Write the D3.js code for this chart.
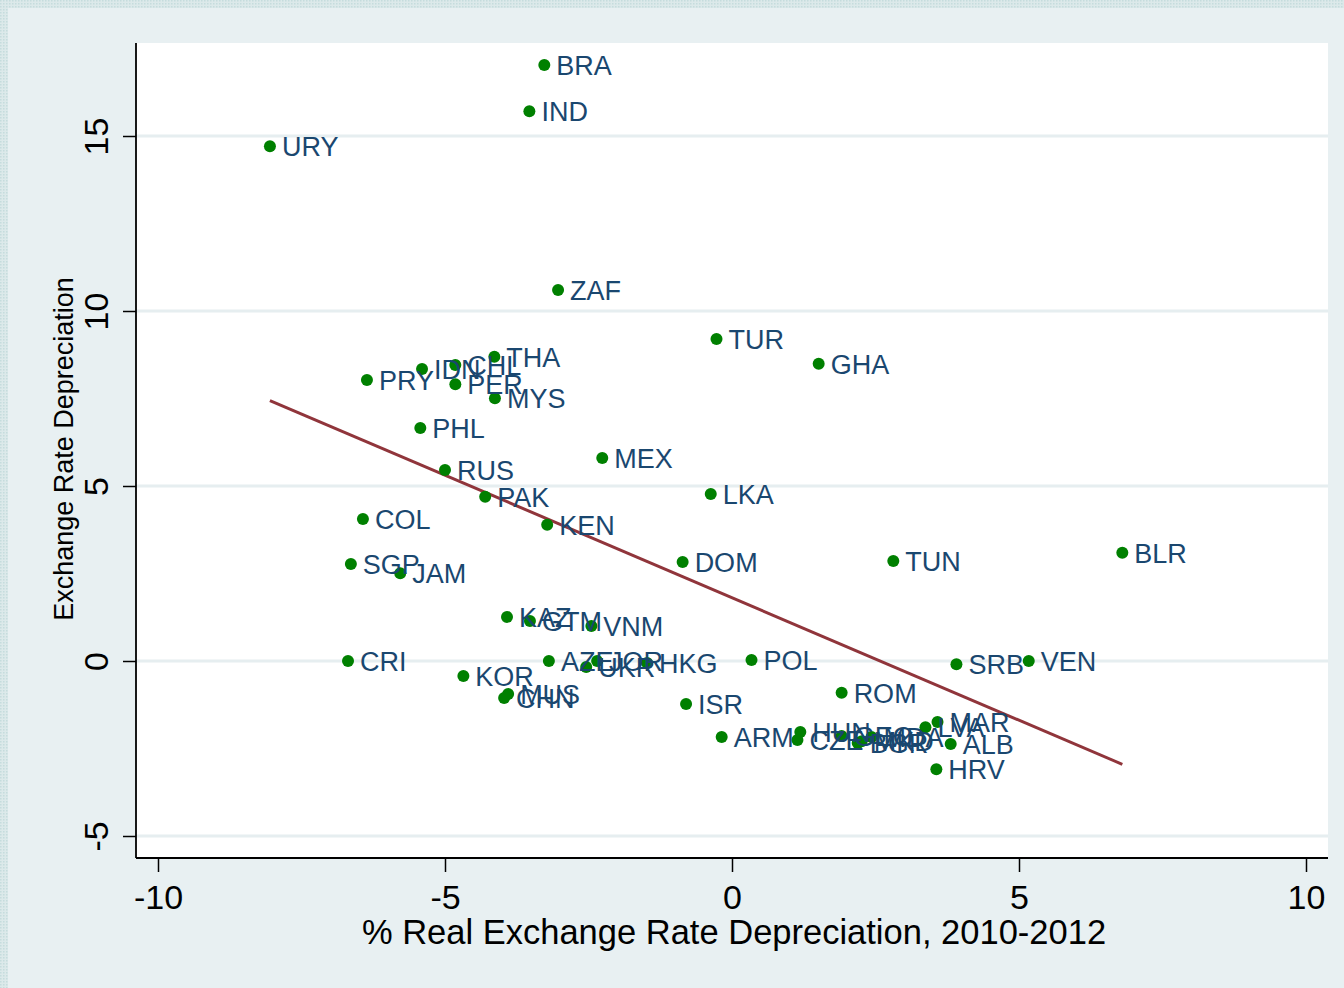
<!DOCTYPE html>
<html>
<head>
<meta charset="utf-8">
<script src="https://cdn.jsdelivr.net/npm/d3@7"></script>
<style>
  html, body { margin: 0; padding: 0; background: #e8f0f2; }
  svg { display: block; }
</style>
</head>
<body>
<svg id="chart" width="1344" height="988"></svg>
<script>
// Country codes with real exchange rate change (x) and exchange rate depreciation (y)
const countries = ["BRA","IND","URY","ZAF","TUR","GHA","THA","CHL","IDN","PRY","PER","MYS","PHL","MEX","RUS","LKA","PAK","COL","KEN","DOM","TUN","BLR","SGP","JAM","KAZ","GTM","VNM","CRI","KOR","AZE","UKR","JOR","HKG","POL","SRB","VEN","ROM","ISR","CHN","MUS","ARM","HUN","CZE","GEO","BGR","MKD","MDA","LVA","MAR","ALB","HRV"];
const realDep = [-3.27,-3.53,-8.05,-3.03,-0.27,1.51,-4.14,-4.82,-5.40,-6.36,-4.82,-4.13,-5.43,-2.26,-5.00,-0.37,-4.30,-6.43,-3.22,-0.86,2.81,6.80,-6.64,-5.78,-3.92,-3.52,-2.45,-6.69,-4.68,-3.19,-2.54,-2.35,-1.48,0.34,3.91,5.17,1.91,-0.80,-3.97,-3.90,-0.18,1.19,1.14,1.91,2.19,2.26,2.43,3.37,3.58,3.81,3.56];
const nomDep = [17.03,15.71,14.71,10.60,9.20,8.49,8.69,8.46,8.34,8.03,7.91,7.51,6.66,5.80,5.46,4.77,4.69,4.06,3.89,2.83,2.86,3.09,2.77,2.51,1.26,1.14,1.00,0.00,-0.43,0.00,-0.17,0.00,-0.06,0.03,-0.09,0.00,-0.91,-1.23,-1.06,-0.94,-2.17,-2.03,-2.26,-2.14,-2.34,-2.29,-2.17,-1.89,-1.74,-2.37,-3.09];
const xTicks = [-10, -5, 0, 5, 10];
const yTicks = [-5, 0, 5, 10, 15];
const xTitle = "% Real Exchange Rate Depreciation, 2010-2012";
const yTitle = "Exchange Rate Depreciation";

const svg = d3.select("#chart");
const W = 1344, H = 988;
const plot = { left: 136, right: 1328, top: 43, bottom: 858 };

const x = d3.scaleLinear().domain([-10, 10]).range([158, 1306]);
const y = d3.scaleLinear().domain([-5, 15]).range([836, 136]);

// Dotted frame along the top and left edges
const defs = svg.append("defs");
const pat = defs.append("pattern").attr("id", "dots")
  .attr("width", 3).attr("height", 3).attr("patternUnits", "userSpaceOnUse");
pat.append("rect").attr("width", 3).attr("height", 3).attr("fill", "#dce9ea");
pat.append("rect").attr("width", 1.5).attr("height", 1.5).attr("fill", "#c5dcdd");

svg.append("rect").attr("width", W).attr("height", H).attr("fill", "#e8f0f2");
svg.append("rect").attr("x", 0).attr("y", 0).attr("width", W).attr("height", 8).attr("fill", "url(#dots)");
svg.append("rect").attr("x", 0).attr("y", 0).attr("width", 8).attr("height", H).attr("fill", "url(#dots)");

// Plot region
svg.append("rect")
  .attr("x", plot.left).attr("y", plot.top)
  .attr("width", plot.right - plot.left).attr("height", plot.bottom - plot.top)
  .attr("fill", "#ffffff");

// Horizontal grid lines
svg.append("g").selectAll("line").data(yTicks).join("line")
  .attr("x1", plot.left).attr("x2", plot.right)
  .attr("y1", d => y(d)).attr("y2", d => y(d))
  .attr("stroke", "#e6eef0").attr("stroke-width", 3);

// Axes
const font = "Liberation Sans, Arial, Helvetica, sans-serif";
const xAxis = svg.append("g").attr("transform", `translate(0,${plot.bottom})`)
  .call(d3.axisBottom(x).tickValues(xTicks).tickSize(14).tickPadding(13).tickFormat(d3.format("d")));
xAxis.select(".domain").remove();
xAxis.selectAll("line").attr("stroke", "#000").attr("stroke-width", 1.5);
xAxis.selectAll("text").attr("font-family", font).attr("font-size", 34).attr("fill", "#000")
  .text(d => d < 0 ? "-" + Math.abs(d) : String(d));

const yAxis = svg.append("g").attr("transform", `translate(${plot.left},0)`)
  .call(d3.axisLeft(y).tickValues(yTicks).tickSize(13).tickPadding(0).tickFormat(d3.format("d")));
yAxis.select(".domain").remove();
yAxis.selectAll("line").attr("stroke", "#000").attr("stroke-width", 1.5);
yAxis.selectAll("text")
  .attr("font-family", font).attr("font-size", 34).attr("fill", "#000")
  .attr("x", 0).attr("dy", null)
  .attr("text-anchor", "middle")
  .attr("transform", "translate(-28,0) rotate(-90)")
  .text(d => d < 0 ? "-" + Math.abs(d) : String(d));

svg.append("line")
  .attr("x1", plot.left).attr("x2", plot.left)
  .attr("y1", plot.top).attr("y2", plot.bottom)
  .attr("stroke", "#000").attr("stroke-width", 1.8);
svg.append("line")
  .attr("x1", plot.left).attr("x2", plot.right)
  .attr("y1", plot.bottom).attr("y2", plot.bottom)
  .attr("stroke", "#000").attr("stroke-width", 1.8);

// Axis titles
svg.append("text")
  .attr("x", 734).attr("y", 944)
  .attr("text-anchor", "middle")
  .attr("font-family", font).attr("font-size", 34.5).attr("fill", "#000")
  .text(xTitle);
svg.append("text")
  .attr("transform", `translate(73,${(277 + 621) / 2}) rotate(-90)`)
  .attr("text-anchor", "middle")
  .attr("font-family", font).attr("font-size", 27).attr("fill", "#000")
  .text(yTitle);

const data = countries.map((c, i) => ({ c, x: realDep[i], y: nomDep[i] }));

// Least-squares fitted line over the observed range
const mx = d3.mean(data, d => d.x), my = d3.mean(data, d => d.y);
const slope = d3.sum(data, d => (d.x - mx) * (d.y - my)) / d3.sum(data, d => (d.x - mx) ** 2);
const intercept = my - slope * mx;
const [x0, x1] = d3.extent(data, d => d.x);
svg.append("line")
  .attr("x1", x(x0)).attr("y1", y(intercept + slope * x0))
  .attr("x2", x(x1)).attr("y2", y(intercept + slope * x1))
  .attr("stroke", "#90353b").attr("stroke-width", 3);

// Markers and labels
const g = svg.append("g");
g.selectAll("circle").data(data).join("circle")
  .attr("cx", d => x(d.x)).attr("cy", d => y(d.y)).attr("r", 6)
  .attr("fill", "#008000");
g.selectAll("text").data(data).join("text")
  .attr("x", d => x(d.x) + 12).attr("y", d => y(d.y))
  .attr("dy", "0.36em")
  .attr("font-family", font).attr("font-size", 27).attr("fill", "#1a476f")
  .text(d => d.c);
</script>
</body>
</html>
